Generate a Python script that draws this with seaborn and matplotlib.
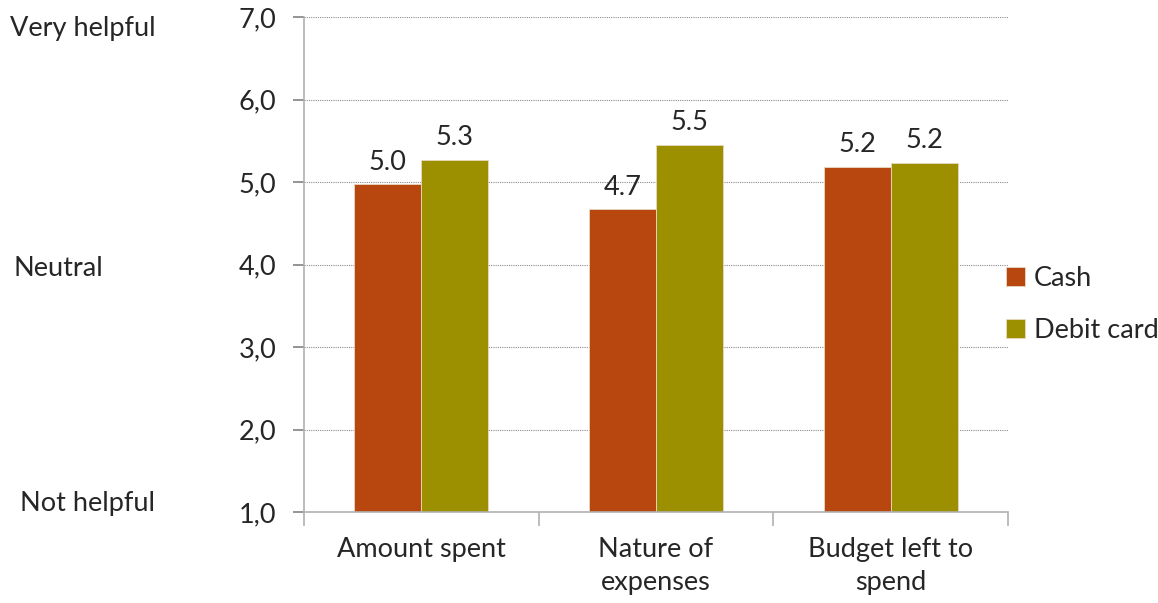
import pandas as pd
import numpy as np
import matplotlib
matplotlib.use("Agg")
import matplotlib.pyplot as plt
import matplotlib.transforms as mtransforms
import seaborn as sns

# chart values
categories = ["Amount spent", "Nature of\nexpenses", "Budget left to\nspend"]
cash = [4.97, 4.67, 5.18]
debit_card = [5.27, 5.45, 5.23]
series_names = ["Cash", "Debit card"]
y_ticks = [1.0, 2.0, 3.0, 4.0, 5.0, 6.0, 7.0]
side_labels = {"Very helpful": 7.0, "Neutral": 4.0, "Not helpful": 1.0}

colors = {"Cash": "#B8460F", "Debit card": "#9C9000"}

df = pd.DataFrame({
    "category": categories * 2,
    "series": [series_names[0]] * len(cash) + [series_names[1]] * len(debit_card),
    "value": cash + debit_card,
})

FS = 19.5

sns.set_theme(style="white")
plt.rcParams["font.family"] = ["Lato", "DejaVu Sans"]

fig = plt.figure(figsize=(11.58, 6.03), dpi=100)
ax = fig.add_axes([0.2625, 0.1509, 0.608, 0.8209])

sns.barplot(data=df, x="category", y="value", hue="series", palette=colors,
            width=0.57, saturation=1, ax=ax, legend=True,
            edgecolor="#e8d8c0", linewidth=0.6)

ax.set_ylim(1, 7)
ax.set_xlim(-0.5, len(categories) - 0.5)
ax.set_yticks(y_ticks)
ax.set_yticklabels([f"{v:.1f}".replace(".", ",") for v in y_ticks], fontsize=FS)
ax.set_xlabel("")
ax.set_ylabel("")

# dotted gridlines
for v in y_ticks[1:]:
    ax.axhline(v, color="#8c8c8c", linestyle=(0, (1, 1)), linewidth=0.8, zorder=0)
ax.set_axisbelow(True)

for side in ["top", "right"]:
    ax.spines[side].set_visible(False)
for side in ["left", "bottom"]:
    ax.spines[side].set_color("#b0b0b0")
    ax.spines[side].set_linewidth(1.2)

ax.tick_params(axis="y", left=True, length=8, color="#888888", pad=12)
# x ticks at category boundaries, labels at centers
ax.set_xticks(np.arange(len(categories)))
ax.set_xticklabels(categories, fontsize=FS, linespacing=1.4)
ax.tick_params(axis="x", bottom=False, pad=12)
ax.set_xticks(np.arange(len(categories) + 1) - 0.5, minor=True)
ax.tick_params(axis="x", which="minor", bottom=True, length=10, color="#b0b0b0", width=1.2)

# value labels above bars
for container in ax.containers:
    ax.bar_label(container, fmt="%.1f", padding=7, fontsize=FS)

# legend on the right
handles, labels = ax.get_legend_handles_labels()
ax.legend(handles, labels, loc="center left", bbox_to_anchor=(0.962, 0.42),
          frameon=False, fontsize=FS, handlelength=0.7, handleheight=0.7,
          labelspacing=1.0, handletextpad=0.35)

# helpfulness labels on the far left
trans = mtransforms.blended_transform_factory(fig.transFigure, ax.transData)
label_x = {"Very helpful": 10 / 1158, "Neutral": 14 / 1158, "Not helpful": 20 / 1158}
label_dy = {"Very helpful": -0.14, "Neutral": -0.05, "Not helpful": 0.1}
for text, yv in side_labels.items():
    fig.text(label_x[text], yv + label_dy[text], text, transform=trans,
             ha="left", va="center", fontsize=FS)

fig.savefig("out.png", dpi=100)
